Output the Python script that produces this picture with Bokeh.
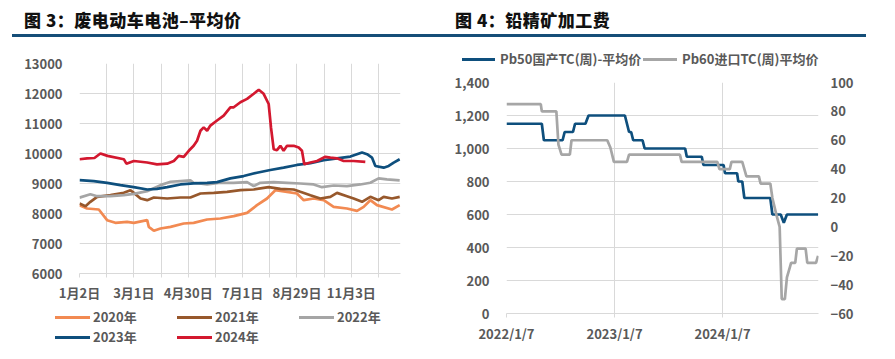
from bokeh.plotting import figure
from bokeh.models import Range1d, LinearAxis, FixedTicker, Div, NumeralTickFormatter
from bokeh.layouts import column, row
from bokeh.embed import file_html
from bokeh.resources import INLINE

FONT = "Noto Sans CJK SC"
TXT = "#595959"
GRID = "#d9d9d9"
NAVY = "#154E78"

# ---------------- Left panel data (trading-day index) ----------------
title_left = "图 3：废电动车电池–平均价"
day_ticks = [0, 20, 40, 60, 80, 100, 120, 140, 160, 180, 200, 220]
day_label_pos = [0, 40, 80, 120, 160, 200]
day_labels = ["1月2日", "3月1日", "4月30日", "7月1日", "8月29日", "11月3日"]
y_ticks_left = [6000, 7000, 8000, 9000, 10000, 11000, 12000, 13000]

x_2020 = [0, 5.6, 14.2, 20.3, 26.4, 35, 40, 49.8, 51, 54.7, 59.6, 67, 76.7, 84, 93.9, 103.7,
          113.5, 123.3, 130.6, 138, 144.1, 152.7, 160, 165, 172.3, 179.7, 187, 196.8, 204.2,
          209.1, 214, 218.9, 229.9, 235.6]
y_2020 = [8278, 8167, 8133, 7778, 7689, 7722, 7689, 7778, 7556, 7423, 7500, 7556, 7667, 7689,
          7800, 7833, 7911, 8022, 8278, 8500, 8777, 8722, 8666, 8444, 8500, 8444, 8222, 8167,
          8089, 8222, 8444, 8278, 8133, 8278]

x_2021 = [0, 4.4, 8, 13, 22.8, 32.6, 37.5, 40, 44.9, 49.8, 54.7, 64.5, 74.3, 81.6, 89, 98.8,
          108.6, 118.4, 128.2, 139.2, 147.8, 157.6, 162.5, 169.9, 177.2, 184.6, 189.5, 196.8,
          201.7, 207.9, 214, 220.1, 223.8, 229.9, 235.6]
y_2021 = [8333, 8244, 8390, 8555, 8610, 8688, 8777, 8688, 8500, 8444, 8533, 8500, 8533, 8533,
          8666, 8688, 8722, 8777, 8800, 8878, 8822, 8800, 8722, 8610, 8500, 8555, 8688, 8577,
          8500, 8390, 8555, 8444, 8555, 8500, 8555]

x_2022 = [0, 8, 13, 22.8, 32.6, 40, 49.8, 59.6, 67, 74.3, 81.6, 84, 93.9, 103.7, 113.5, 123.3,
          128.2, 133, 142.9, 152.7, 162.5, 172.3, 178.4, 187, 196.8, 206.6, 214, 220.1, 226.2,
          235.6]
y_2022 = [8530, 8640, 8577, 8577, 8610, 8654, 8744, 8946, 9058, 9080, 9102, 9024, 8968, 9024,
          9024, 9046, 8912, 9024, 9046, 9024, 9000, 8968, 8878, 8934, 8912, 8968, 9024, 9170,
          9136, 9102]

x_2023 = [0, 10.5, 20.3, 30.1, 39.9, 49.8, 57, 64.5, 74.3, 84, 93.9, 101.2, 111, 120.8, 130.6,
          140.4, 150.2, 160, 169.9, 179.7, 189.5, 199.3, 207.9, 211.6, 215.2, 217.7, 223.8,
          227.5, 231.2, 235.6]
y_2023 = [9114, 9080, 9020, 8946, 8878, 8800, 8822, 8878, 8968, 9002, 9024, 9046, 9170, 9248,
          9360, 9450, 9528, 9618, 9674, 9774, 9840, 9898, 10032, 9976, 9864, 9584, 9528, 9584,
          9696, 9808]

x_2024 = [0, 5.6, 11, 15.4, 20.6, 32.6, 34.5, 40, 49.8, 57, 64.5, 69.4, 73, 76.7, 80.4, 84,
          86.5, 89, 91.4, 93.9, 96.3, 101.2, 106.1, 111, 113.5, 118.4, 123.3, 128.2, 131.9,
          135.5, 139.2, 140.9, 142.9, 145.3, 147.8, 150.2, 152.7, 157.6, 161.3, 163.7, 165.4,
          169.9, 174.8, 180.9, 184.6, 189.5, 194.4, 201.7, 210.3]
y_2024 = [9808, 9840, 9850, 10000, 9920, 9810, 9660, 9750, 9700, 9640, 9660, 9750, 9920, 9890,
          10090, 10256, 10424, 10760, 10870, 10760, 10930, 11100, 11264, 11540, 11540, 11710,
          11820, 11990, 12125, 11990, 11650, 10870, 10140, 10110, 10256, 10090, 10256, 10256,
          10200, 10090, 9640, 9700, 9750, 9890, 9860, 9840, 9750, 9750, 9720]

left_names = ["2020年", "2021年", "2022年", "2023年", "2024年"]
left_colors = ["#F28A52", "#97582C", "#A5A5A5", "#0E4F7D", "#D3182F"]
left_x = [x_2020, x_2021, x_2022, x_2023, x_2024]
left_y = [y_2020, y_2021, y_2022, y_2023, y_2024]

# ---------------- Right panel data (week index from 2022/1/7) ----------------
title_right = "图 4：铅精矿加工费"
week_ticks = [0, 52, 104]
week_labels = ["2022/1/7", "2023/1/7", "2024/1/7"]
y_ticks_tc_left = [0, 200, 400, 600, 800, 1000, 1200, 1400]
y_ticks_tc_right = [-60, -40, -20, 0, 20, 40, 60, 80, 100]

pb50_name = "Pb50国产TC(周)-平均价"
pb50_color = "#0E4F7D"
pb50_week = [0, 17, 18, 27, 28, 32, 33, 38, 39.5, 57, 58, 59, 60, 61, 65.5, 66.5, 86, 86.8, 94,
             94.8, 104.5, 105.2, 111, 111.6, 113.5, 114.5, 127, 128, 132, 133.5, 135, 150]
pb50_val = [1150, 1150, 1050, 1050, 1100, 1100, 1150, 1150, 1200, 1200, 1150, 1100, 1100, 1050,
            1050, 1000, 1000, 950, 950, 900, 900, 850, 850, 800, 800, 700, 700, 600, 600, 550,
            600, 600]

pb60_name = "Pb60进口TC(周)平均价"
pb60_color = "#A6A6A6"
pb60_week = [0, 16.5, 17, 24, 25, 26.5, 30.5, 31.3, 48.5, 50, 51.7, 58, 59, 83.5, 84.3, 101.5,
             102.5, 107.5, 108.3, 113.5, 114.5, 115.5, 121.5, 122.3, 127, 128, 130, 131.5, 132.5,
             134, 135, 136.4, 137, 139, 139.8, 144, 144.8, 149, 150]
pb60_val = [85, 85, 80, 80, 57, 50, 50, 60, 60, 55, 45, 45, 50, 50, 45, 45, 40, 40, 45, 45, 40,
            35, 35, 30, 30, 20, 8, 0, -50, -50, -35, -28, -25, -25, -15, -15, -25, -25, -20]

LW = 2.7


def style_axis(ax, standoff, tick_out=0):
    ax.major_label_text_font = FONT
    ax.major_label_text_font_size = "13px"
    ax.major_label_text_font_style = "bold"
    ax.major_label_text_color = TXT
    ax.major_label_standoff = standoff
    ax.minor_tick_line_color = None
    ax.major_tick_out = tick_out
    ax.major_tick_in = 0


# ---------------- Left figure ----------------
p1 = figure(width=440, height=270, x_range=Range1d(0, 236.2), y_range=Range1d(6000, 13000),
            output_backend="svg", toolbar_location=None,
            min_border_left=79, min_border_right=40, min_border_top=26, min_border_bottom=34)
p1.outline_line_color = None
p1.margin = 0

for xs, ys, col in zip(left_x, left_y, left_colors):
    p1.line(xs, ys, line_color=col, line_width=LW)

p1.xaxis.ticker = FixedTicker(ticks=day_ticks)
p1.xaxis.major_label_overrides = {t: (day_labels[day_label_pos.index(t)] if t in day_label_pos else "")
                                  for t in day_ticks}
style_axis(p1.xaxis[0], 5, tick_out=4)
p1.xaxis.axis_line_color = GRID
p1.xaxis.major_tick_line_color = GRID

p1.yaxis.ticker = FixedTicker(ticks=y_ticks_left)
style_axis(p1.yaxis[0], 17)
p1.yaxis.axis_line_color = None
p1.yaxis.major_tick_line_color = None

p1.xgrid.grid_line_color = GRID
p1.ygrid.grid_line_color = GRID

# ---------------- Right figure ----------------
p2 = figure(width=455, height=285, x_range=Range1d(0, 150.2), y_range=Range1d(0, 1400),
            output_backend="svg", toolbar_location=None,
            min_border_left=66, min_border_right=77, min_border_top=12, min_border_bottom=42)
p2.outline_line_color = None
p2.margin = 0
p2.extra_y_ranges = {"right": Range1d(-60, 100)}

p2.line(pb50_week, pb50_val, line_color=pb50_color, line_width=LW)
p2.line(pb60_week, pb60_val, line_color=pb60_color, line_width=LW, y_range_name="right")

p2.xaxis.ticker = FixedTicker(ticks=week_ticks)
p2.xaxis.major_label_overrides = dict(zip(week_ticks, week_labels))
style_axis(p2.xaxis[0], 6, tick_out=4)
p2.xaxis.axis_line_color = GRID
p2.xaxis.major_tick_line_color = GRID

p2.yaxis.ticker = FixedTicker(ticks=y_ticks_tc_left)
p2.yaxis.formatter = NumeralTickFormatter(format="0,0")
style_axis(p2.yaxis[0], 17)
p2.yaxis.axis_line_color = None
p2.yaxis.major_tick_line_color = None

ax_r = LinearAxis(y_range_name="right", ticker=FixedTicker(ticks=y_ticks_tc_right))
style_axis(ax_r, 12)
ax_r.axis_line_color = None
ax_r.major_tick_line_color = None
p2.add_layout(ax_r, "right")

p2.xgrid.grid_line_color = GRID
p2.ygrid.grid_line_color = GRID

# ---------------- Legends (HTML) ----------------
LTXT = (f"position:absolute;font-family:'{FONT}';font-size:13px;line-height:16px;"
        f"font-weight:bold;color:{TXT};white-space:nowrap;")


def legend_div(w, h, entries):
    parts = [f'<div style="position:relative;width:{w}px;height:{h}px;">']
    for name, col, lx, lw, tx, cy in entries:
        parts.append(f'<div style="position:absolute;left:{lx}px;top:{cy - 1.4}px;width:{lw}px;'
                     f'height:2.8px;background:{col};"></div>')
        parts.append(f'<span style="{LTXT}left:{tx}px;top:{cy - 8.8}px;">{name}</span>')
    parts.append('</div>')
    return Div(text="".join(parts), width=w, height=h, margin=0)


leg1_x = [55, 177, 299, 55, 177]
leg1_cy = [10.3, 10.3, 10.3, 30.3, 30.3]
leg1 = legend_div(440, 48, [(n, c, x, 35, x + 38, cy) for n, c, x, cy in
                            zip(left_names, left_colors, leg1_x, leg1_cy)])
leg2 = legend_div(455, 33, [(pb50_name, pb50_color, 22, 33, 60, 22.3),
                            (pb60_name, pb60_color, 203, 34, 242, 22.3)])

# ---------------- Header / footer ----------------
tstyle = ("position:absolute;top:11px;font-size:17px;line-height:18px;font-weight:900;"
          "letter-spacing:0.5px;color:#111;white-space:nowrap;font-family:'Noto Sans CJK SC';")


def header_div(text, w, tx, lx, lw):
    html = (f'<div style="position:relative;width:{w}px;height:37px;">'
            f'<span style="{tstyle}left:{tx}px;">{text}</span>'
            f'<div style="position:absolute;left:{lx}px;top:34px;width:{lw}px;height:3px;'
            f'background:{NAVY};"></div></div>')
    return Div(text=html, width=w, height=37, margin=0)


def footer_div(w, lx, lw):
    html = (f'<div style="position:relative;width:{w}px;height:4px;">'
            f'<div style="position:absolute;left:{lx}px;top:2px;width:{lw}px;height:2px;'
            f'background:{NAVY};"></div></div>')
    return Div(text=html, width=w, height=4, margin=0)


left_col = column(header_div(title_left, 440, 24, 12, 428), p1, leg1, footer_div(440, 12, 428),
                  spacing=0)
right_col = column(header_div(title_right, 455, 15, 0, 426), leg2, p2, footer_div(455, 0, 426),
                   spacing=0)
layout = row(left_col, right_col, spacing=0)

with open("out.html", "w") as f:
    f.write(file_html(layout, INLINE))
